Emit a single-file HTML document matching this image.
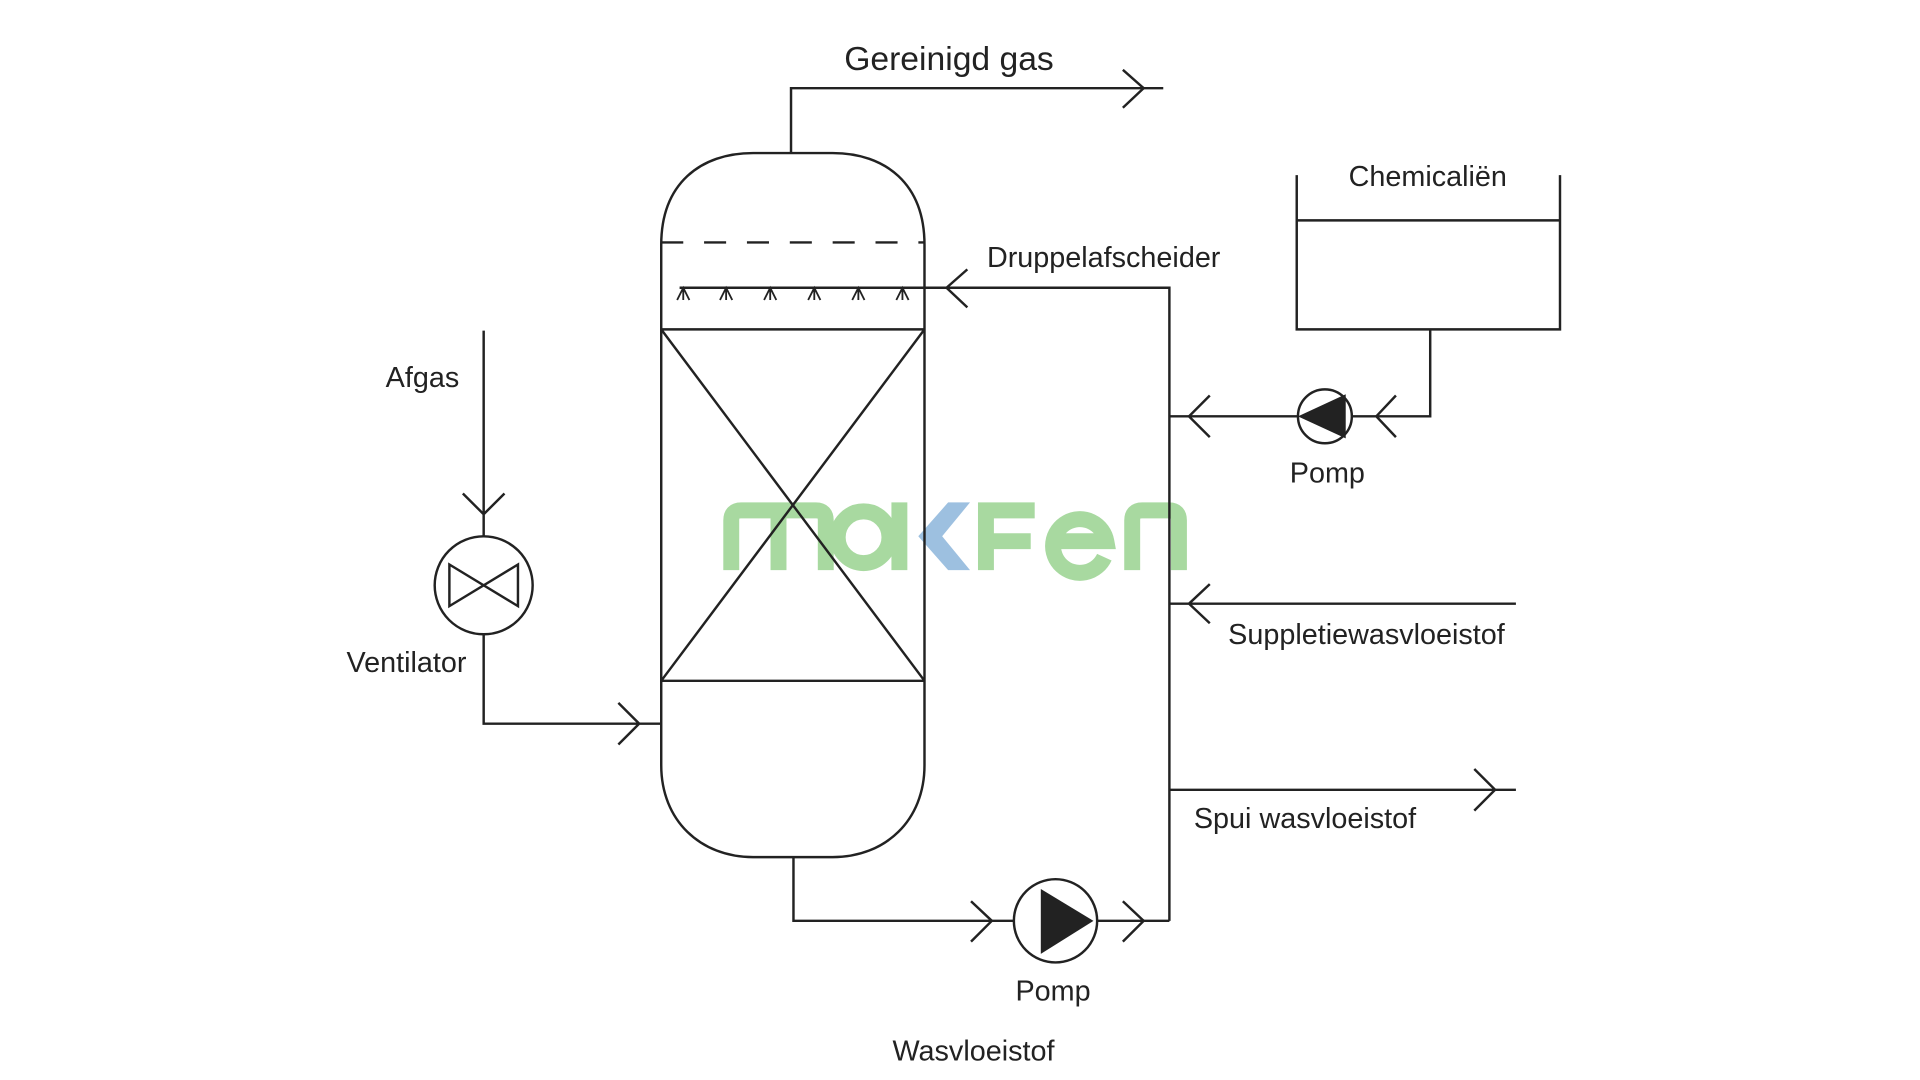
<!DOCTYPE html>
<html><head><meta charset="utf-8"><style>
html,body{margin:0;padding:0;background:#fff;}
svg{display:block;}
text{font-family:"Liberation Sans",Arial,sans-serif;fill:#222;}
</style></head><body>
<svg width="1920" height="1080" viewBox="0 0 1568 882" xmlns="http://www.w3.org/2000/svg">
<rect width="1568" height="882" fill="#fff"/>
<g transform="scale(0.8125)" fill="none" stroke="#a8d9a0" stroke-width="16">
<path d="M735,573 V523 Q735,513 745,513 H820 Q830,513 830,523 V573 M782.5,513 V573"/>
<circle cx="868" cy="540" r="26"/>
<path d="M904,505 V573"/>
<path d="M991,573 V513 H1040 M991,544 H1036"/>
<path d="M1110,560 A27,27 0 1 1 1112,544 H1060"/>
<path d="M1138,573 V523 Q1138,513 1148,513 H1175 Q1185,513 1185,523 V573"/>
<polygon points="953,505 975,505 947,539 975,573 953,573 923,539" fill="#9dc0e0" stroke="none"/>
</g>
<g stroke="#222" stroke-width="2" fill="none">
<path d="M540,200 C540,150 572,125 615,125 L680,125 C723,125 755,150 755,200 L755,625 C755,670 723,700 680,700 L615,700 C572,700 540,670 540,625 Z"/>
<path d="M540,198 H755" stroke-dasharray="18,17"/>
<path d="M540,269 H755 M540,556 H755 M540,269 L755,556 M755,269 L540,556"/>
<path d="M555,235 H955 V752"/>
<g stroke-width="1.5">
<path d="M553,245 L558,235 L563,245 M558,235 V245"/>
<path d="M588,245 L593,235 L598,245 M593,235 V245"/>
<path d="M624,245 L629,235 L634,245 M629,235 V245"/>
<path d="M660,245 L665,235 L670,245 M665,235 V245"/>
<path d="M696,245 L701,235 L706,245 M701,235 V245"/>
<path d="M732,245 L737,235 L742,245 M737,235 V245"/>
</g>
<path d="M790,220 L773,235 L790,251"/>
<path d="M646,125 V72 H950"/>
<path d="M917,57 L934,72 L917,88"/>
<path d="M1059,143 V269 H1274 V143 M1059,180 H1274"/>
<path d="M1168,269 V340 H1104 M1060,340 H955"/>
<circle cx="1082" cy="340" r="22"/>
<path d="M1140,323 L1124,340 L1140,357 M988,323 L971,340 L988,357"/>
<path d="M955,493 H1238 M988,477 L971,493 L988,509"/>
<path d="M955,645 H1238 M1204,628 L1221,645 L1204,662"/>
<path d="M648,700 V752 H828 M896,752 H955"/>
<path d="M793,736 L810,752 L793,769 M917,736 L934,752 L917,769"/>
<circle cx="862" cy="752" r="34"/>
<path d="M395,270 V438 M378,403 L395,420 L412,403"/>
<circle cx="395" cy="478" r="40"/>
<path d="M367,461 L423,495 L423,461 L367,495 Z"/>
<path d="M395,518 V591 H540 M505,574 L522,591 L505,608"/>
</g>
<polygon points="1060,340 1099,322 1099,358" fill="#222"/>
<polygon points="893,752 850,726 850,779" fill="#222"/>
<text x="775" y="57" font-size="27.5" text-anchor="middle">Gereinigd gas</text>
<text x="806" y="218" font-size="23.5">Druppelafscheider</text>
<text x="1166" y="152" font-size="23.5" text-anchor="middle">Chemicaliën</text>
<text x="1084" y="394" font-size="23.5" text-anchor="middle">Pomp</text>
<text x="1003" y="526" font-size="23.5">Suppletiewasvloeistof</text>
<text x="975" y="676" font-size="23.5">Spui wasvloeistof</text>
<text x="860" y="817" font-size="23.5" text-anchor="middle">Pomp</text>
<text x="795" y="866" font-size="23.5" text-anchor="middle">Wasvloeistof</text>
<text x="345" y="316" font-size="23.5" text-anchor="middle">Afgas</text>
<text x="332" y="549" font-size="23.5" text-anchor="middle">Ventilator</text>
</svg>
</body></html>
